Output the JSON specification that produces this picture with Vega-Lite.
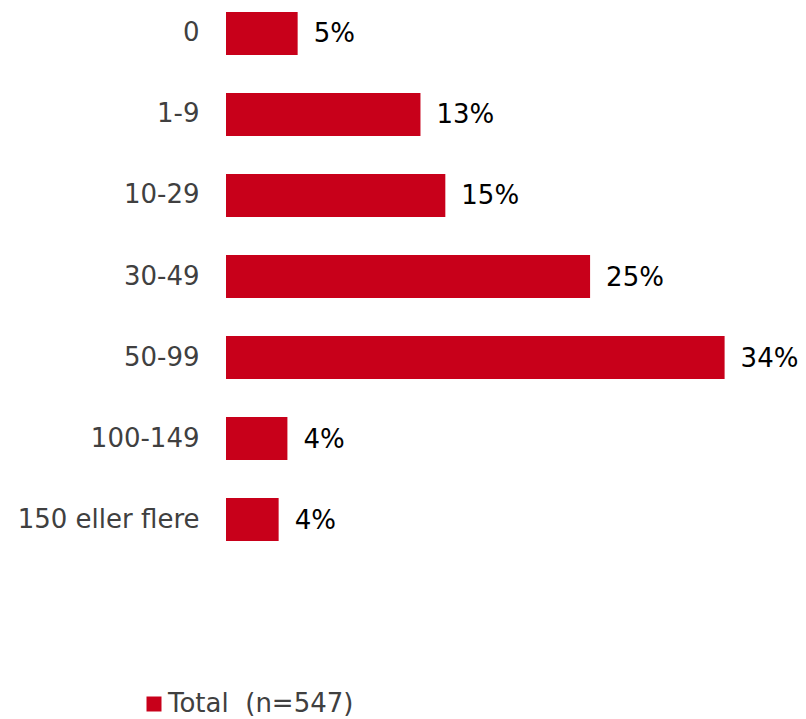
{
  "$schema": "https://vega.github.io/schema/vega-lite/v6.json",
  "autosize": "none",
  "width": 578,
  "height": 553,
  "padding": {"left": 226, "top": 0, "right": 2, "bottom": 166},
  "background": "white",
  "config": {"view": {"stroke": null}, "font": "DejaVu Sans"},
  "data": {
    "values": [
      {"category": "0", "value": 0.049, "series": "Total\u00a0 (n=547)"},
      {"category": "1-9", "value": 0.133, "series": "Total\u00a0 (n=547)"},
      {"category": "10-29", "value": 0.150, "series": "Total\u00a0 (n=547)"},
      {"category": "30-49", "value": 0.249, "series": "Total\u00a0 (n=547)"},
      {"category": "50-99", "value": 0.341, "series": "Total\u00a0 (n=547)"},
      {"category": "100-149", "value": 0.042, "series": "Total\u00a0 (n=547)"},
      {"category": "150 eller flere", "value": 0.036, "series": "Total\u00a0 (n=547)"}
    ]
  },
  "encoding": {
    "y": {
      "field": "category",
      "type": "nominal",
      "sort": null,
      "scale": {"paddingInner": 0.47, "paddingOuter": 0.148},
      "axis": {
        "title": null,
        "ticks": false,
        "domain": false,
        "labelFontSize": 26,
        "labelColor": "#404040",
        "labelPadding": 27,
        "labelLimit": 300
      }
    },
    "x": {
      "field": "value",
      "type": "quantitative",
      "scale": {"domain": [0, 0.3953], "nice": false},
      "axis": null
    }
  },
  "layer": [
    {
      "mark": {"type": "bar"},
      "encoding": {
        "color": {
          "field": "series",
          "type": "nominal",
          "scale": {"range": ["#C8001A"]},
          "legend": {
            "orient": "none",
            "legendX": -85,
            "legendY": 691,
            "title": null,
            "symbolType": "square",
            "symbolSize": 225,
            "symbolStrokeWidth": 0,
            "labelFontSize": 26,
            "labelColor": "#404040",
            "labelOffset": 1,
            "labelLimit": 500,
            "padding": 0
          }
        }
      }
    },
    {
      "mark": {"type": "text", "align": "left", "baseline": "middle", "dx": 16, "dy": 1, "fontSize": 26, "color": "#000000"},
      "encoding": {
        "text": {"field": "value", "type": "quantitative", "format": ".0%"}
      }
    }
  ]
}
